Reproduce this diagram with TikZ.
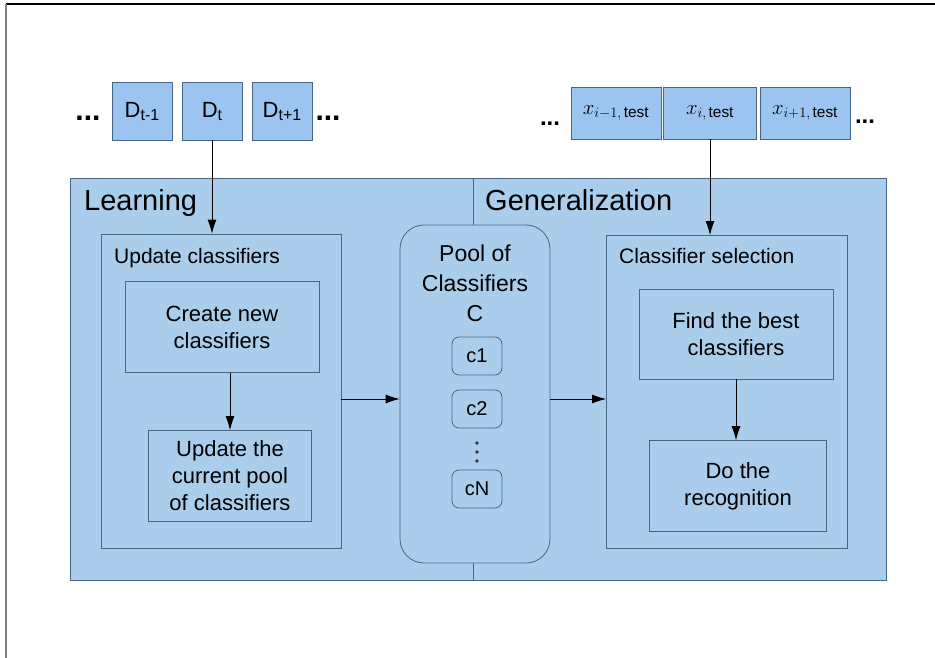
\documentclass[tikz,border=0pt]{standalone}
\usepackage{fontspec}
\setmainfont{Liberation Sans}
\usetikzlibrary{arrows,arrows.meta}
\usepackage{xcolor}
\usepackage{amsmath}
\definecolor{panelblue}{RGB}{170,205,236}
\definecolor{tileblue}{RGB}{155,197,240}
\definecolor{edgeblue}{RGB}{72,102,132}

\begin{document}
\begin{tikzpicture}[x=1pt,y=-1pt,
  box/.style={draw=edgeblue, fill=panelblue, line width=.8pt, inner sep=0pt, align=center, font=\fontsize{22}{27}\selectfont},
  tile/.style={box, fill=tileblue, minimum height=58pt},
  head/.style={anchor=base west, inner sep=0pt, font=\fontsize{29}{29}\selectfont},
  title/.style={anchor=base west, inner sep=0pt, font=\fontsize{21}{21}\selectfont},
  dots/.style={inner sep=0pt, font=\fontsize{30}{30}\selectfont\bfseries},
  link/.style={black, line width=.9pt, ->, >={Latex[length=14pt,width=9pt]}}]
\useasboundingbox (0,0) rectangle (935,658);
\draw[black, line width=1.6pt] (6,4)--(935,4);
\draw[gray, line width=1.6pt] (6,4)--(6,658);

% the two halves
\node[box, minimum width=816pt, minimum height=402pt] (panel) at (478,379) {};
\node[head] (learn) at (84,211) {Learning};
\node[head] (gen) at (485,211) {Generalization};

% learning side
\node[box, minimum width=240pt, minimum height=314pt] (upd) at (221,391) {};
\node[title] (updt) at (114,263) {Update classifiers};
\node[box, minimum width=194pt, minimum height=91pt] (create) at (222,327) {Create new\\classifiers};
\node[box, minimum width=163pt, minimum height=91pt] (updpool) at (230,476) {Update the\\current pool\\of classifiers};

% pool of classifiers
\node[box, rounded corners=24pt, minimum width=150pt, minimum height=338pt] (pool) at (475,394) {};
\draw[edgeblue, line width=.8pt] (pool.north)++(-2,0) coordinate (ptop) -- (ptop |- panel.north);
\draw[edgeblue, line width=.8pt] (pool.south)++(-2,0) coordinate (pbot) -- (pbot |- panel.south);
\node[inner sep=0pt, align=center, font=\fontsize{23}{30}\selectfont] (pooltxt) at (475,283) {Pool of\\Classifiers\\C};
\node[box, rounded corners=7pt, minimum width=50pt, minimum height=38pt, font=\fontsize{20}{20}\selectfont] (c1) at (477,356) {c1};
\node[box, rounded corners=7pt, minimum width=50pt, minimum height=38pt, font=\fontsize{20}{20}\selectfont] (c2) at (477,409) {c2};
\node[box, rounded corners=7pt, minimum width=50pt, minimum height=38pt, font=\fontsize{20}{20}\selectfont] (cN) at (477,489) {cN};
\foreach \y in {443,452,461}
  \fill[black!80] (477,\y) circle (1.8pt);

% generalization side
\node[box, minimum width=241pt, minimum height=313pt] (sel) at (727,392) {};
\node[title] (selt) at (619,263) {Classifier selection};
\node[box, minimum width=194pt, minimum height=90pt] (find) at (736,334) {Find the best\\classifiers};
\node[box, minimum width=177pt, minimum height=91pt] (recog) at (738,486) {Do the\\recognition};

% data streams
\node[tile, minimum width=60pt] (dprev) at (142,111) {D{\fontsize{16}{16}\selectfont\raisebox{-3pt}{t-1}}};
\node[tile, minimum width=60pt] (dcur) at (212,111) {D{\fontsize{16}{16}\selectfont\raisebox{-3pt}{t}}};
\node[tile, minimum width=60pt] (dnext) at (282,111) {D{\fontsize{16}{16}\selectfont\raisebox{-3pt}{t+1}}};
\node[dots] (dl) at (88,118) {...};
\node[dots] (dr) at (328,118) {...};
\node[tile, minimum width=90pt, minimum height=52pt, font=\fontsize{22}{22}\selectfont] (xprev) at (616,113) {$x_{i-1,\,\mathrm{test}}$};
\node[tile, minimum width=93pt, minimum height=52pt, font=\fontsize{22}{22}\selectfont] (xcur) at (710,113) {$x_{i,\,\mathrm{test}}$};
\node[tile, minimum width=90pt, minimum height=52pt, font=\fontsize{22}{22}\selectfont] (xnext) at (805,113) {$x_{i+1,\,\mathrm{test}}$};
\node[dots, font=\fontsize{24}{24}\selectfont\bfseries] (xl) at (550,124) {...};
\node[dots, font=\fontsize{24}{24}\selectfont\bfseries] (xr) at (865,122) {...};

% arrows
\draw[link] (dcur.south) -- (dcur.south |- upd.north);
\draw[link] (xcur.south) -- (xcur.south |- sel.north);
\draw[link] (updpool.north |- create.south) -- (updpool.north);
\draw[link] (find.south) -- (find.south |- recog.north);
\draw[link] ([yshift=-8]upd.east) -- ([yshift=-8]upd.east -| pool.west);
\draw[link] ([yshift=-5]pool.east) -- ([yshift=-5]pool.east -| sel.west);
\end{tikzpicture}
\end{document}
